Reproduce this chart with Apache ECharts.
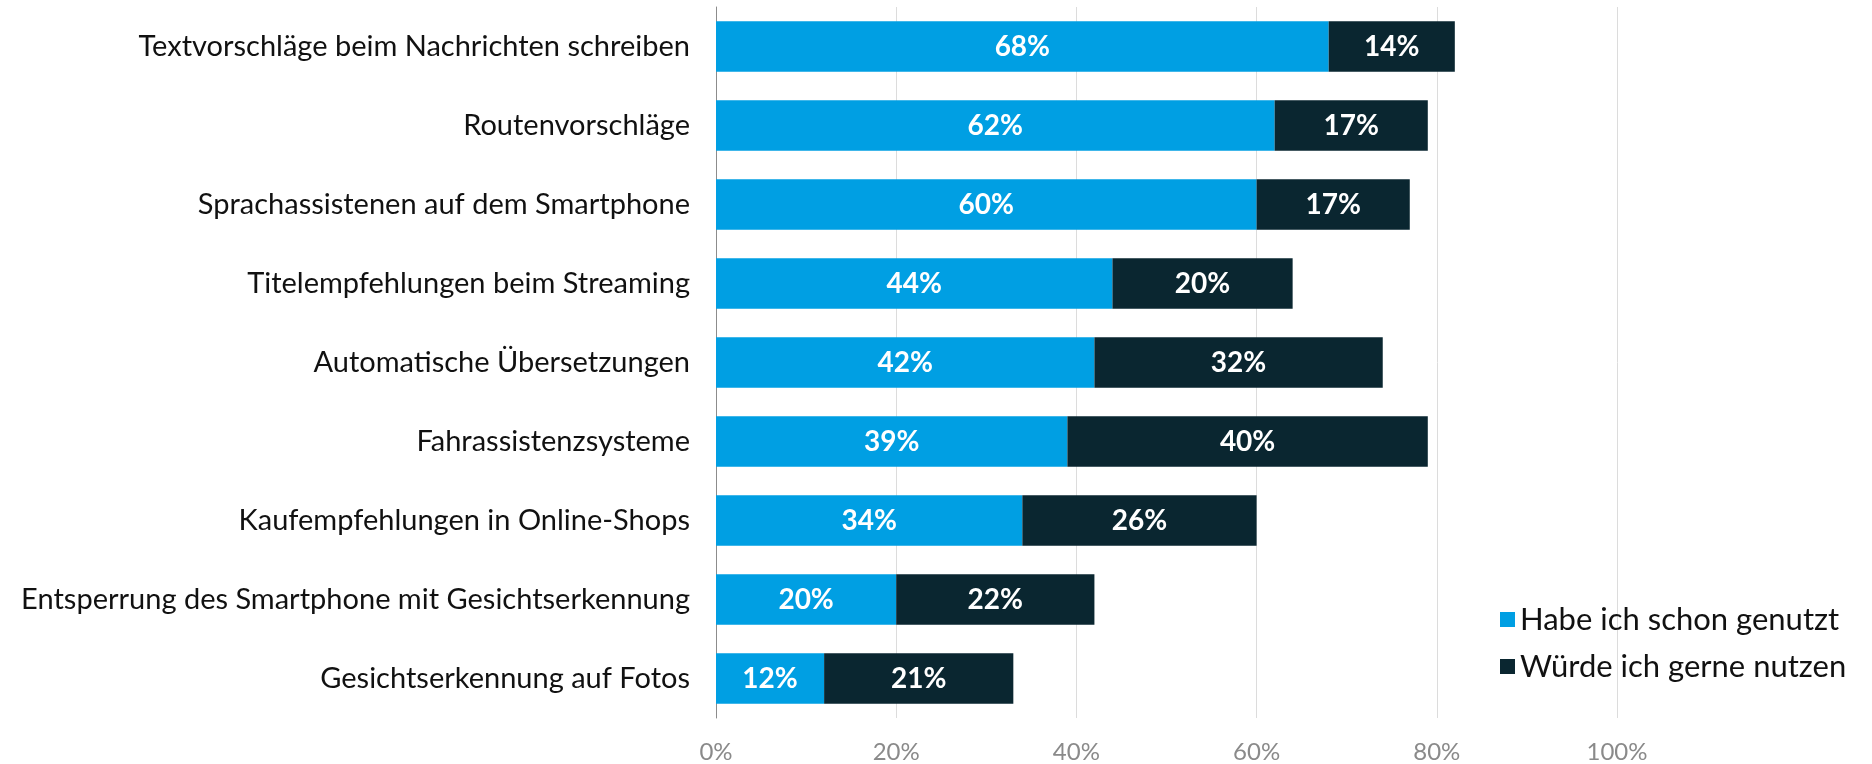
<!DOCTYPE html>
<html>
<head>
<meta charset="utf-8">
<script src="https://cdn.jsdelivr.net/npm/echarts@6/dist/echarts.min.js"></script>
<style>
  html, body { margin: 0; padding: 0; background: #fff; }
  #chart { width: 1872px; height: 764px; }
</style>
</head>
<body>
<div id="chart"></div>
<script>
// Kategorien von oben nach unten
var categories = [
  'Textvorschläge beim Nachrichten schreiben',
  'Routenvorschläge',
  'Sprachassistenen auf dem Smartphone',
  'Titelempfehlungen beim Streaming',
  'Automatische Übersetzungen',
  'Fahrassistenzsysteme',
  'Kaufempfehlungen in Online-Shops',
  'Entsperrung des Smartphone mit Gesichtserkennung',
  'Gesichtserkennung auf Fotos'
];
var genutzt = [68, 62, 60, 44, 42, 39, 34, 20, 12];
var gerneNutzen = [14, 17, 17, 20, 32, 40, 26, 22, 21];
var xTicks = [0, 20, 40, 60, 80, 100];

var FONT = 'Lato, "Noto Sans", sans-serif';

var chart = echarts.init(document.getElementById('chart'));

function barLabel() {
  return {
    show: true,
    position: 'inside',
    color: '#fff',
    fontFamily: FONT,
    fontWeight: 'bold',
    fontSize: 28,
    formatter: '{c}%'
  };
}

chart.setOption({
  animation: false,
  grid: { left: 716, right: 255, top: 7, height: 715 },
  legend: {
    orient: 'vertical',
    left: 1495,
    top: 599,
    icon: 'rect',
    itemWidth: 15,
    itemHeight: 15,
    itemGap: 16,
    textStyle: { fontFamily: FONT, fontSize: 31, color: '#111' },
    data: ['Habe ich schon genutzt', 'Würde ich gerne nutzen']
  },
  xAxis: {
    type: 'value',
    min: 0,
    max: 100,
    interval: 20,
    axisLine: { show: false },
    axisTick: { show: false },
    splitLine: { lineStyle: { color: '#dcdcdc', width: 1 } },
    axisLabel: {
      margin: 22,
      color: '#8a8a8a',
      fontFamily: FONT,
      fontSize: 24,
      formatter: function (v) { return xTicks.indexOf(v) >= 0 ? v + '%' : ''; }
    }
  },
  yAxis: {
    type: 'category',
    inverse: true,
    data: categories,
    axisLine: { show: true, lineStyle: { color: '#8c8c8c', width: 1 } },
    axisTick: { show: false },
    axisLabel: {
      margin: 26,
      color: '#111',
      fontFamily: FONT,
      fontSize: 29
    }
  },
  series: [
    {
      name: 'Habe ich schon genutzt',
      type: 'bar',
      stack: 'a',
      barCategoryGap: '36%',
      itemStyle: { color: '#009fe3' },
      label: barLabel(),
      data: genutzt
    },
    {
      name: 'Würde ich gerne nutzen',
      type: 'bar',
      stack: 'a',
      barCategoryGap: '36%',
      itemStyle: { color: '#0a2630' },
      label: barLabel(),
      data: gerneNutzen
    }
  ]
});
</script>
</body>
</html>
